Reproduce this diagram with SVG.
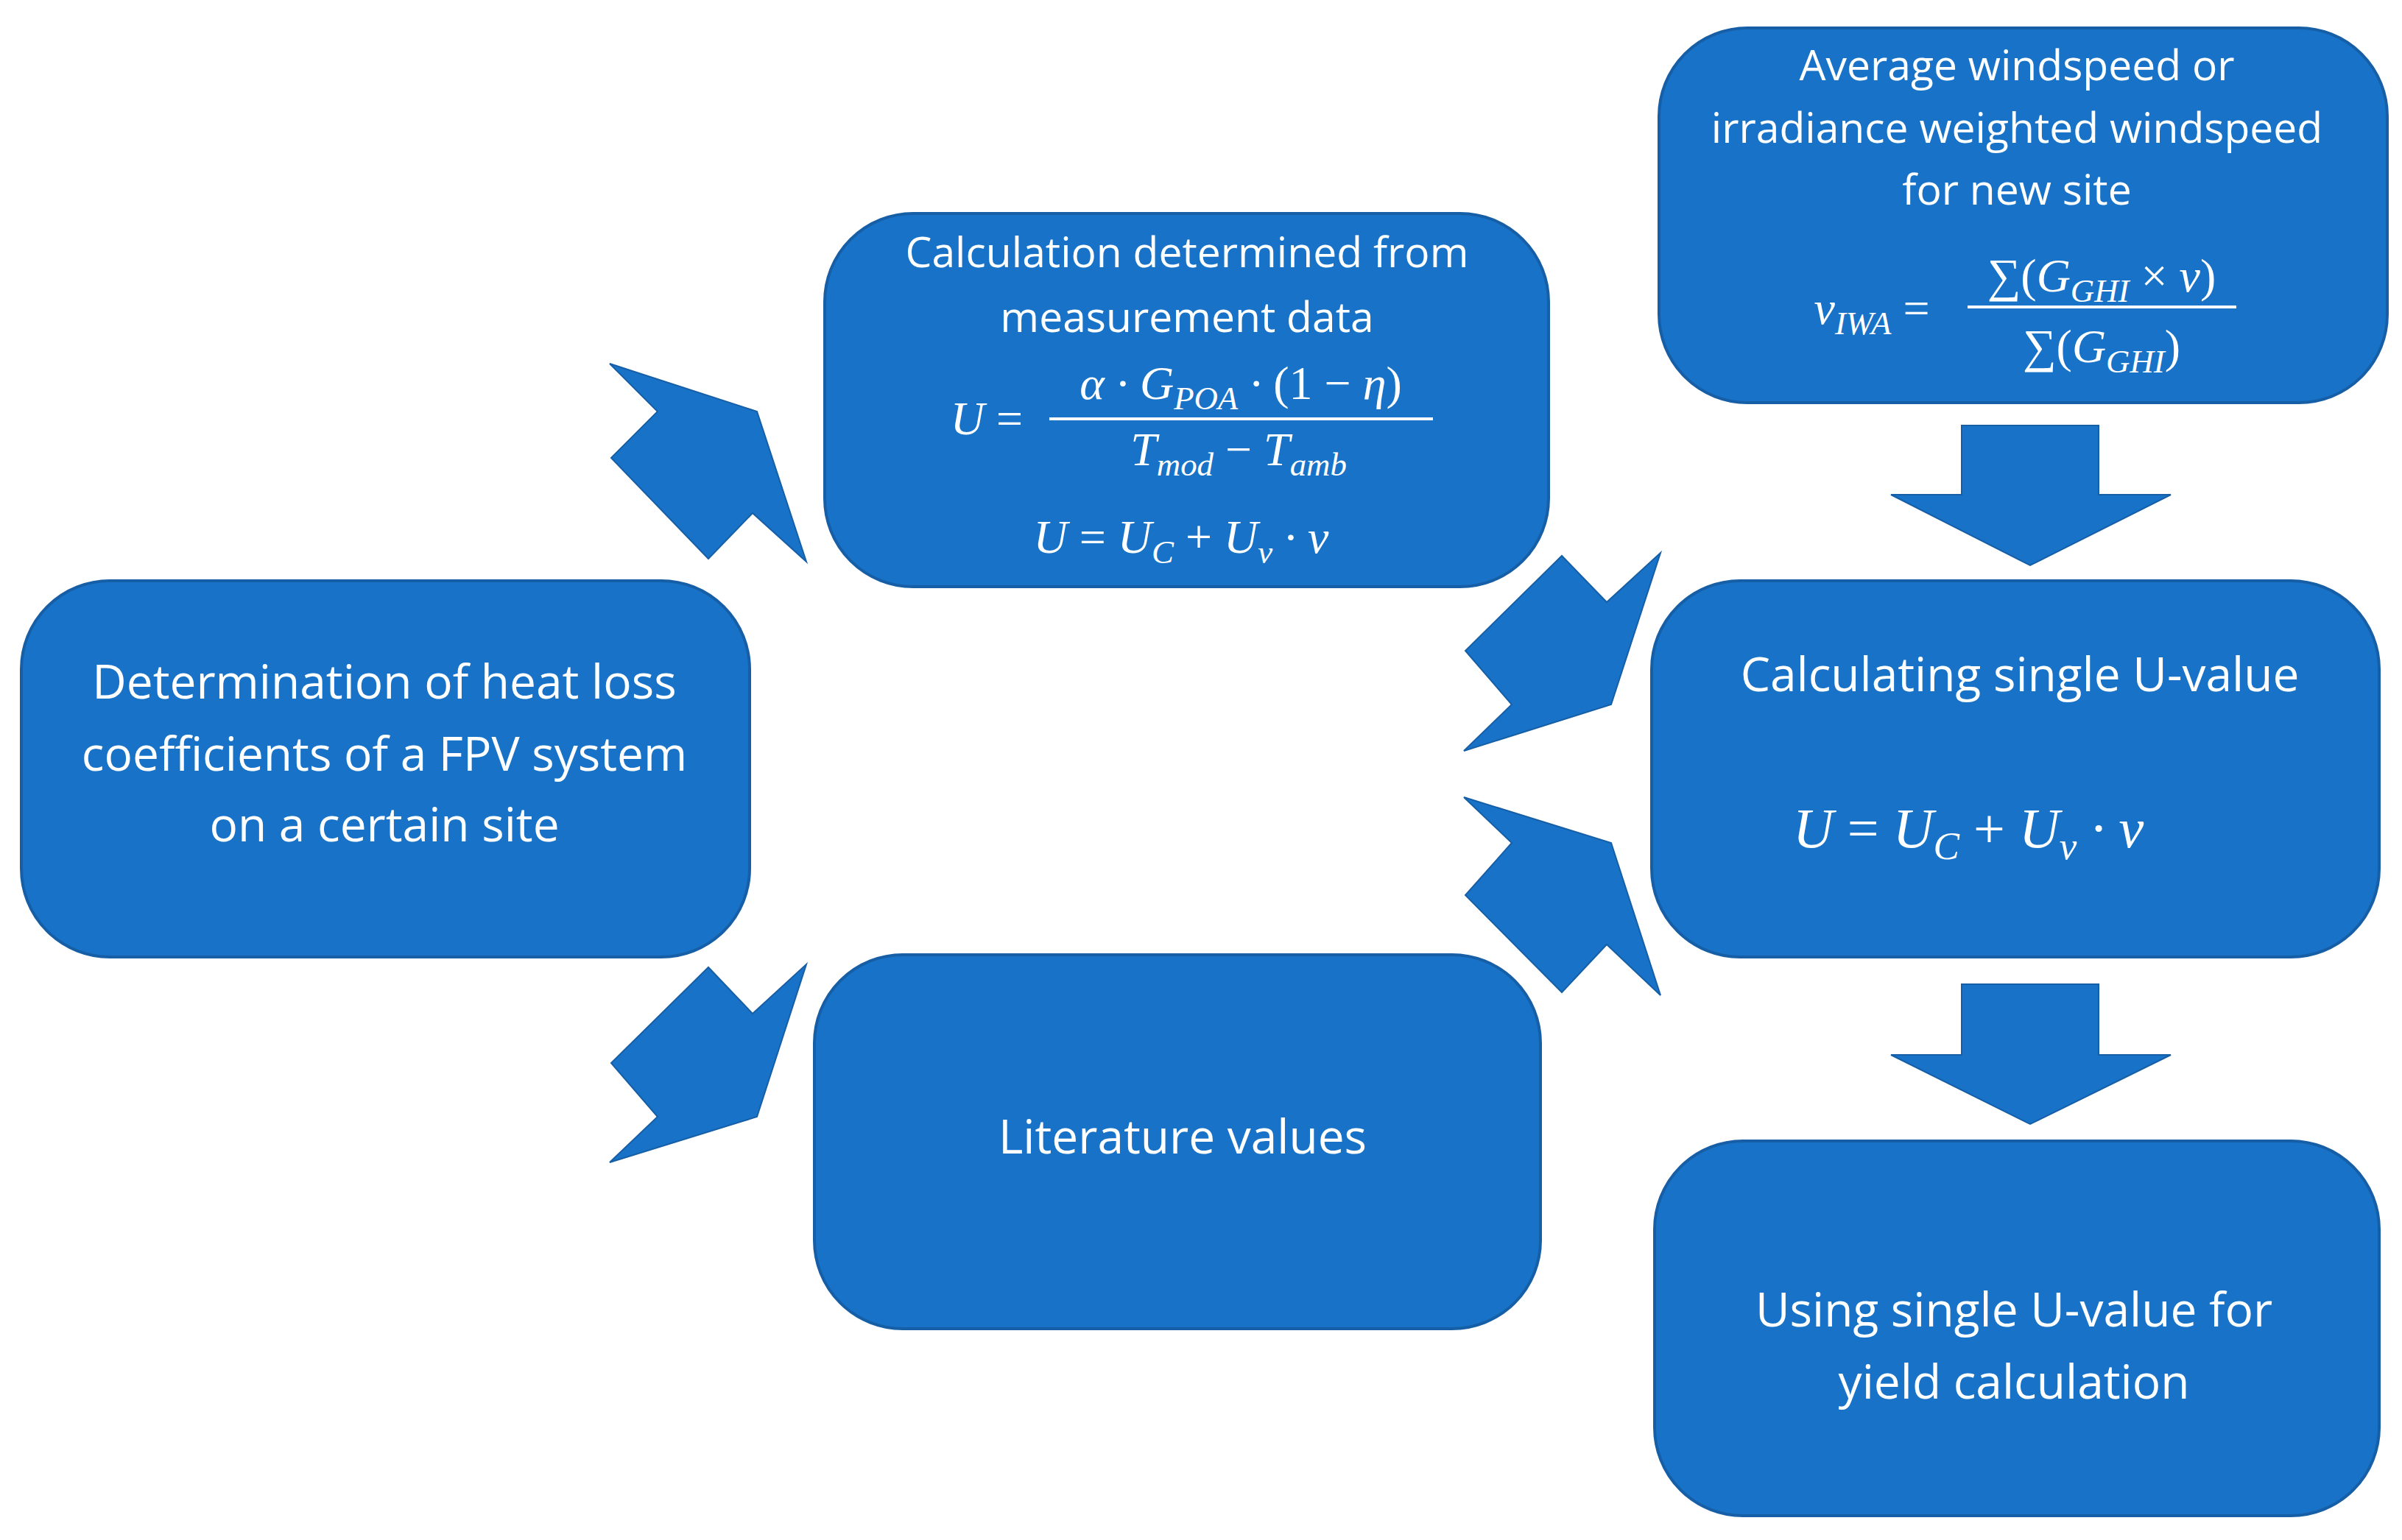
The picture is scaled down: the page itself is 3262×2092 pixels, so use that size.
<svg xmlns="http://www.w3.org/2000/svg" width="3262" height="2092" viewBox="0 0 3262 2092">
<style>
.box{fill:#1873C8;stroke:#165FA6;stroke-width:4}
.arr{fill:#1873C8;stroke:#165FA6;stroke-width:2}
.t{font-family:"Open Sans","Liberation Sans",sans-serif;fill:#fff;text-anchor:middle}
.m{font-family:"Liberation Serif",serif;font-style:italic;fill:#fff;text-anchor:middle}
.s{font-size:70%}
.up{font-style:normal}
</style>
<rect width="3262" height="2092" fill="#fff"/>
<g id="connectors">
<polygon class="arr" points="828,494 1028,559 1095,763 1022,697 962,759 830,622 893,559"/>
<polygon class="arr" points="828,1579 1028,1517 1095,1310 1022,1377 962,1314 830,1444 893,1517"/>
<polygon class="arr" points="1988,1020 2188,957 2255,751 2182,818 2121,755 1990,884 2053,957"/>
<polygon class="arr" points="1988,1083 2188,1145 2255,1352 2182,1283 2121,1348 1990,1216 2053,1145"/>
<polygon class="arr" points="2664,578 2850,578 2850,672 2948,672 2757,768 2568,672 2664,672"/>
<polygon class="arr" points="2664,1337 2850,1337 2850,1433 2948,1433 2757,1527 2568,1433 2664,1433"/>
</g>
<g id="n_left">
<rect class="box" x="29" y="789" width="989" height="511" rx="120"/>
<text class="t" font-size="64"><tspan x="522" y="949">Determination of heat loss</tspan><tspan x="522" y="1047">coefficients of a FPV system</tspan><tspan x="522" y="1143">on a certain site</tspan></text>
</g>
<g id="n_calc">
<rect class="box" x="1120" y="290" width="983" height="507" rx="120"/>
<text class="t" font-size="57"><tspan x="1612" y="363">Calculation determined from</tspan><tspan x="1612" y="451">measurement data</tspan></text>
<text class="m" font-size="64" x="1340" y="590">U <tspan class="up">=</tspan></text>
<text class="m" font-size="64" x="1685" y="542">α · G<tspan class="s" dy="14">POA</tspan><tspan dy="-14"> · </tspan><tspan class="up">(1 − </tspan>η<tspan class="up">)</tspan></text>
<rect x="1425" y="567" width="521" height="4" fill="#fff"/>
<text class="m" font-size="64" x="1682" y="632">T<tspan class="s" dy="14">mod</tspan><tspan dy="-14" class="up"> − </tspan>T<tspan class="s" dy="14">amb</tspan></text>
<text class="m" font-size="64" x="1604" y="751">U <tspan class="up">=</tspan> U<tspan class="s" dy="14">C</tspan><tspan dy="-14" class="up"> + </tspan>U<tspan class="s" dy="14">v</tspan><tspan dy="-14"> · v</tspan></text>
</g>
<g id="n_wind">
<rect class="box" x="2253" y="38" width="989" height="509" rx="120"/>
<text class="t" font-size="57"><tspan x="2739" y="109">Average windspeed or</tspan><tspan x="2739" y="194">irradiance weighted windspeed</tspan><tspan x="2739" y="278">for new site</tspan></text>
<text class="m" font-size="64" x="2542" y="440">v<tspan class="s" dy="14">IWA</tspan><tspan dy="-14" class="up"> =</tspan></text>
<text class="m" font-size="64" x="2854" y="396"><tspan class="up">∑(</tspan>G<tspan class="s" dy="14">GHI</tspan><tspan dy="-14" class="up"> × </tspan>v<tspan class="up">)</tspan></text>
<rect x="2672" y="415" width="365" height="4" fill="#fff"/>
<text class="m" font-size="64" x="2854" y="492"><tspan class="up">∑(</tspan>G<tspan class="s" dy="14">GHI</tspan><tspan dy="-14" class="up">)</tspan></text>
</g>
<g id="n_single">
<rect class="box" x="2243" y="789" width="988" height="511" rx="120"/>
<text class="t" font-size="64" x="2743" y="939">Calculating single U-value</text>
<text class="m" font-size="76" x="2673" y="1151">U <tspan class="up">=</tspan> U<tspan class="s" dy="16">C</tspan><tspan dy="-16" class="up"> + </tspan>U<tspan class="s" dy="16">v</tspan><tspan dy="-16"> · v</tspan></text>
</g>
<g id="n_lit">
<rect class="box" x="1106" y="1297" width="986" height="508" rx="120"/>
<text class="t" font-size="64" x="1606" y="1567">Literature values</text>
</g>
<g id="n_use">
<rect class="box" x="2247" y="1550" width="984" height="509" rx="120"/>
<text class="t" font-size="64"><tspan x="2735" y="1802">Using single U-value for</tspan><tspan x="2735" y="1900">yield calculation</tspan></text>
</g>
</svg>
